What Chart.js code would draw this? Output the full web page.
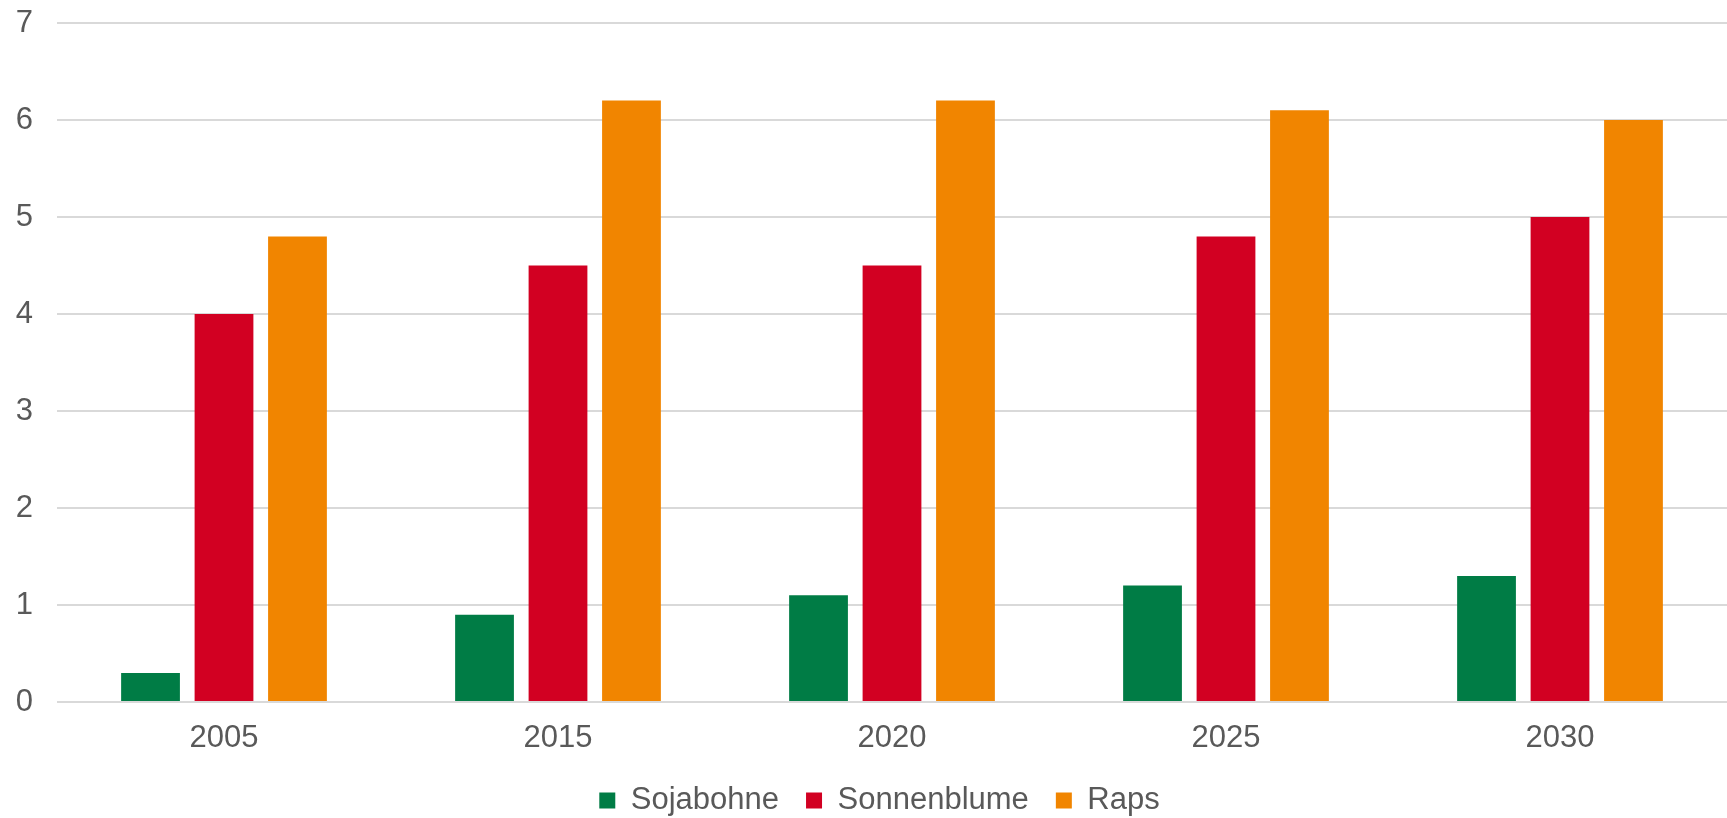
<!DOCTYPE html>
<html>
<head>
<meta charset="utf-8">
<script src="https://cdn.jsdelivr.net/npm/chart.js@4"></script>
<style>
  html, body { margin: 0; padding: 0; background: #fff; }
  #wrap { width: 1727px; height: 818px; }
</style>
</head>
<body>
<div id="wrap"><canvas id="myChart"></canvas></div>
<script>
var years = ['2005', '2015', '2020', '2025', '2030'];
var soja = [0.3, 0.9, 1.1, 1.2, 1.3];
var sonnenblume = [4.0, 4.5, 4.5, 4.8, 5.0];
var raps = [4.8, 6.2, 6.2, 6.1, 6.0];
var yTicks = [0, 1, 2, 3, 4, 5, 6, 7];

var textColor = '#595959';
var fontFamily = '"Liberation Sans", Arial, sans-serif';

// nudge the legend row a little to the right of the canvas centre
var legendShift = {
    id: 'legendShift',
    afterLayout: function(chart) {
        if (chart.legend) {
            chart.legend.left += 16;
            chart.legend.right += 16;
        }
    }
};

const ctx = document.getElementById('myChart');
var chartOel = new Chart(ctx, {
    type: 'bar',
    data: {
        labels: years,
        datasets: [
            { label: 'Sojabohne', data: soja, backgroundColor: '#007c45' },
            { label: 'Sonnenblume', data: sonnenblume, backgroundColor: '#d20022' },
            { label: 'Raps', data: raps, backgroundColor: '#f18500' }
        ]
    },
    plugins: [legendShift],
    options: {
        responsive: true,
        maintainAspectRatio: false,
        animation: false,
        layout: {
            // legend runs a bit past the bottom edge so its row sits low
            padding: { left: 0, right: 0, top: 23, bottom: -8 }
        },
        datasets: {
            bar: { categoryPercentage: 0.66, barPercentage: 0.8 }
        },
        plugins: {
            tooltip: { enabled: false },
            legend: {
                position: 'bottom',
                labels: {
                    color: textColor,
                    font: { family: fontFamily, size: 31 },
                    boxWidth: 16,
                    boxHeight: 16,
                    padding: 27
                }
            }
        },
        scales: {
            x: {
                grid: { display: false },
                border: { display: false },
                ticks: {
                    color: textColor,
                    font: { family: fontFamily, size: 31 },
                    padding: 10
                },
                afterFit: function(axis) { axis.height = 56; }
            },
            y: {
                min: 0,
                max: 7,
                afterBuildTicks: function(axis) {
                    axis.ticks = yTicks.map(function(v) { return { value: v }; });
                },
                grid: { color: '#d9d9d9', lineWidth: 2, drawTicks: false },
                border: { display: false },
                ticks: {
                    color: textColor,
                    font: { family: fontFamily, size: 31 },
                    padding: 24
                },
                afterFit: function(axis) {
                    axis.width = 57;
                    axis.paddingTop = 0;
                    axis.paddingBottom = 0;
                }
            }
        }
    }
});
</script>
</body>
</html>
